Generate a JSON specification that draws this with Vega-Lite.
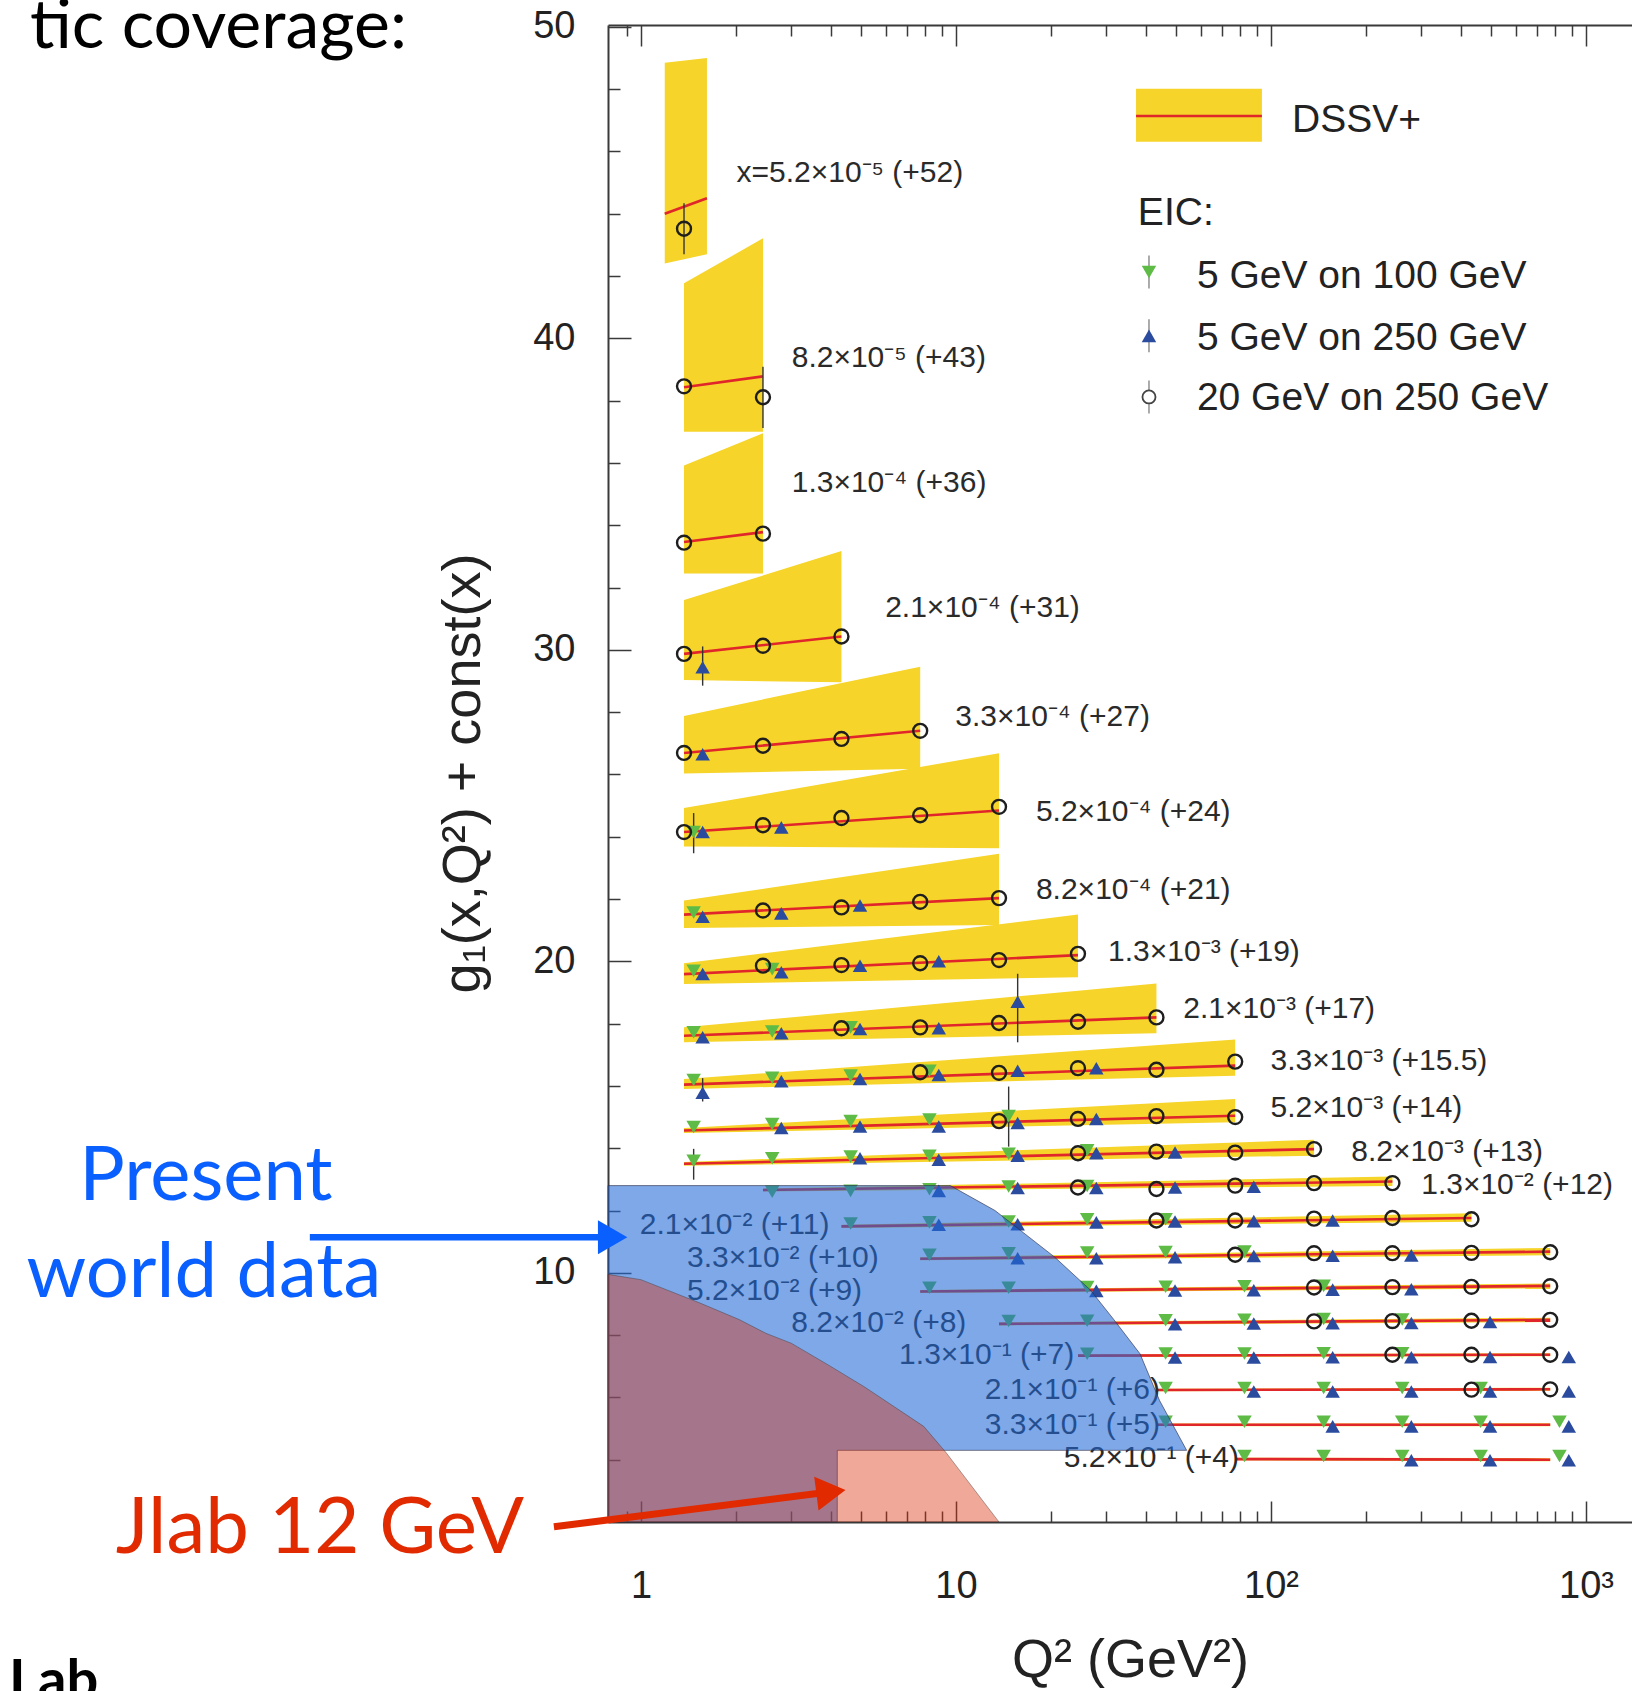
{
  "$schema": "https://vega.github.io/schema/vega-lite/v6.json",
  "width": 1024,
  "height": 1497,
  "autosize": {"type": "none"},
  "padding": {"left": 608, "top": 25, "right": 0, "bottom": 169},
  "background": "white",
  "config": {
    "view": {"stroke": null},
    "axis": {
      "labelFont": "Liberation Sans", "titleFont": "Liberation Sans", "grid": false,
      "domainColor": "#3a3a3a", "domainWidth": 2, "tickColor": "#3a3a3a", "tickWidth": 1.5,
      "labelColor": "#222222", "titleColor": "#222222", "titleFontWeight": "normal",
      "labelFontSize": 38, "titleFontSize": 54
    }
  },
  "resolve": {"axis": {"x": "independent", "y": "independent"}},
  "datasets": {
    "bands": [
      {"bin": "5.2e-5", "q2": 1.19, "lo": 42.4, "hi": 48.85}, {"bin": "5.2e-5", "q2": 1.62, "lo": 42.7, "hi": 49.0},
      {"bin": "8.2e-5", "q2": 1.37, "lo": 37.0, "hi": 41.77}, {"bin": "8.2e-5", "q2": 2.44, "lo": 37.0, "hi": 43.21},
      {"bin": "1.3e-4", "q2": 1.37, "lo": 32.45, "hi": 35.92}, {"bin": "1.3e-4", "q2": 2.44, "lo": 32.45, "hi": 36.95},
      {"bin": "2.1e-4", "q2": 1.37, "lo": 29.03, "hi": 31.6}, {"bin": "2.1e-4", "q2": 4.33, "lo": 28.96, "hi": 33.17},
      {"bin": "3.3e-4", "q2": 1.37, "lo": 26.03, "hi": 27.88}, {"bin": "3.3e-4", "q2": 7.7, "lo": 26.18, "hi": 29.46},
      {"bin": "5.2e-4", "q2": 1.37, "lo": 23.69, "hi": 24.92}, {"bin": "5.2e-4", "q2": 13.7, "lo": 23.63, "hi": 26.68},
      {"bin": "8.2e-4", "q2": 1.37, "lo": 21.07, "hi": 21.95}, {"bin": "8.2e-4", "q2": 13.7, "lo": 21.17, "hi": 23.45},
      {"bin": "1.3e-3", "q2": 1.37, "lo": 19.27, "hi": 19.94}, {"bin": "1.3e-3", "q2": 24.4, "lo": 19.49, "hi": 21.5},
      {"bin": "2.1e-3", "q2": 1.37, "lo": 17.4, "hi": 17.88}, {"bin": "2.1e-3", "q2": 43.3, "lo": 17.69, "hi": 19.29},
      {"bin": "3.3e-3", "q2": 1.37, "lo": 15.9, "hi": 16.22}, {"bin": "3.3e-3", "q2": 77, "lo": 16.33, "hi": 17.49},
      {"bin": "5.2e-3", "q2": 1.37, "lo": 14.49, "hi": 14.65}, {"bin": "5.2e-3", "q2": 77, "lo": 14.83, "hi": 15.58},
      {"bin": "8.2e-3", "q2": 1.37, "lo": 13.44, "hi": 13.56}, {"bin": "8.2e-3", "q2": 137, "lo": 13.76, "hi": 14.27},
      {"bin": "1.3e-2", "q2": 2.44, "lo": 12.61, "hi": 12.71}, {"bin": "1.3e-2", "q2": 243, "lo": 12.79, "hi": 13.09},
      {"bin": "2.1e-2", "q2": 4.33, "lo": 11.44, "hi": 11.54}, {"bin": "2.1e-2", "q2": 433, "lo": 11.64, "hi": 11.91},
      {"bin": "3.3e-2", "q2": 7.7, "lo": 10.4, "hi": 10.5}, {"bin": "3.3e-2", "q2": 770, "lo": 10.56, "hi": 10.8},
      {"bin": "5.2e-2", "q2": 7.7, "lo": 9.35, "hi": 9.45}, {"bin": "5.2e-2", "q2": 770, "lo": 9.5, "hi": 9.66},
      {"bin": "8.2e-2", "q2": 13.7, "lo": 8.31, "hi": 8.41}, {"bin": "8.2e-2", "q2": 770, "lo": 8.42, "hi": 8.56},
      {"bin": "1.3e-1", "q2": 24.4, "lo": 7.3, "hi": 7.38}, {"bin": "1.3e-1", "q2": 770, "lo": 7.32, "hi": 7.42},
      {"bin": "2.1e-1", "q2": 43.3, "lo": 6.2, "hi": 6.28}, {"bin": "2.1e-1", "q2": 770, "lo": 6.21, "hi": 6.31},
      {"bin": "3.3e-1", "q2": 43.3, "lo": 5.08, "hi": 5.16}, {"bin": "3.3e-1", "q2": 770, "lo": 5.07, "hi": 5.17},
      {"bin": "5.2e-1", "q2": 77, "lo": 3.98, "hi": 4.06}, {"bin": "5.2e-1", "q2": 770, "lo": 3.95, "hi": 4.05}
    ],
    "curves": [
      {"bin": "5.2e-5", "q2": 1.19, "g1": 44.0}, {"bin": "5.2e-5", "q2": 1.62, "g1": 44.5},
      {"bin": "8.2e-5", "q2": 1.37, "g1": 38.43}, {"bin": "8.2e-5", "q2": 2.44, "g1": 38.78},
      {"bin": "1.3e-4", "q2": 1.37, "g1": 33.46}, {"bin": "1.3e-4", "q2": 2.44, "g1": 33.78},
      {"bin": "2.1e-4", "q2": 1.37, "g1": 29.87}, {"bin": "2.1e-4", "q2": 4.33, "g1": 30.43},
      {"bin": "3.3e-4", "q2": 1.37, "g1": 26.69}, {"bin": "3.3e-4", "q2": 7.7, "g1": 27.4},
      {"bin": "5.2e-4", "q2": 1.37, "g1": 24.15}, {"bin": "5.2e-4", "q2": 13.7, "g1": 24.84},
      {"bin": "8.2e-4", "q2": 1.37, "g1": 21.5}, {"bin": "8.2e-4", "q2": 13.7, "g1": 22.03},
      {"bin": "1.3e-3", "q2": 1.37, "g1": 19.59}, {"bin": "1.3e-3", "q2": 24.4, "g1": 20.2},
      {"bin": "2.1e-3", "q2": 1.37, "g1": 17.61}, {"bin": "2.1e-3", "q2": 43.3, "g1": 18.2},
      {"bin": "3.3e-3", "q2": 1.37, "g1": 16.04}, {"bin": "3.3e-3", "q2": 77, "g1": 16.65},
      {"bin": "5.2e-3", "q2": 1.37, "g1": 14.57}, {"bin": "5.2e-3", "q2": 77, "g1": 15.04},
      {"bin": "8.2e-3", "q2": 1.37, "g1": 13.5}, {"bin": "8.2e-3", "q2": 137, "g1": 13.97},
      {"bin": "1.3e-2", "q2": 2.44, "g1": 12.66}, {"bin": "1.3e-2", "q2": 243, "g1": 12.93},
      {"bin": "2.1e-2", "q2": 4.33, "g1": 11.49}, {"bin": "2.1e-2", "q2": 433, "g1": 11.76},
      {"bin": "3.3e-2", "q2": 7.7, "g1": 10.45}, {"bin": "3.3e-2", "q2": 770, "g1": 10.68},
      {"bin": "5.2e-2", "q2": 7.7, "g1": 9.4}, {"bin": "5.2e-2", "q2": 770, "g1": 9.58},
      {"bin": "8.2e-2", "q2": 13.7, "g1": 8.36}, {"bin": "8.2e-2", "q2": 770, "g1": 8.49},
      {"bin": "1.3e-1", "q2": 24.4, "g1": 7.34}, {"bin": "1.3e-1", "q2": 770, "g1": 7.37},
      {"bin": "2.1e-1", "q2": 43.3, "g1": 6.24}, {"bin": "2.1e-1", "q2": 770, "g1": 6.26},
      {"bin": "3.3e-1", "q2": 43.3, "g1": 5.12}, {"bin": "3.3e-1", "q2": 770, "g1": 5.12},
      {"bin": "5.2e-1", "q2": 77, "g1": 4.02}, {"bin": "5.2e-1", "q2": 770, "g1": 4.0}
    ],
    "points": [
      {"bin": "5.2e-5", "beam": "20x250", "q2": 1.37, "g1": 43.52, "lo": 42.7, "hi": 44.34},
      {"bin": "8.2e-5", "beam": "20x250", "q2": 1.37, "g1": 38.46},
      {"bin": "8.2e-5", "beam": "20x250", "q2": 2.44, "g1": 38.11, "lo": 37.12, "hi": 39.09},
      {"bin": "1.3e-4", "beam": "20x250", "q2": 1.37, "g1": 33.44},
      {"bin": "1.3e-4", "beam": "20x250", "q2": 2.44, "g1": 33.73},
      {"bin": "2.1e-4", "beam": "20x250", "q2": 1.37, "g1": 29.87},
      {"bin": "2.1e-4", "beam": "20x250", "q2": 2.44, "g1": 30.13},
      {"bin": "2.1e-4", "beam": "20x250", "q2": 4.33, "g1": 30.43},
      {"bin": "2.1e-4", "beam": "5x250", "q2": 1.57, "g1": 29.44, "lo": 28.85, "hi": 30.11},
      {"bin": "3.3e-4", "beam": "20x250", "q2": 1.37, "g1": 26.69},
      {"bin": "3.3e-4", "beam": "20x250", "q2": 2.44, "g1": 26.92},
      {"bin": "3.3e-4", "beam": "20x250", "q2": 4.33, "g1": 27.14},
      {"bin": "3.3e-4", "beam": "20x250", "q2": 7.7, "g1": 27.4},
      {"bin": "3.3e-4", "beam": "5x250", "q2": 1.57, "g1": 26.65},
      {"bin": "5.2e-4", "beam": "20x250", "q2": 1.37, "g1": 24.15},
      {"bin": "5.2e-4", "beam": "20x250", "q2": 2.44, "g1": 24.37},
      {"bin": "5.2e-4", "beam": "20x250", "q2": 4.33, "g1": 24.6},
      {"bin": "5.2e-4", "beam": "20x250", "q2": 7.7, "g1": 24.69},
      {"bin": "5.2e-4", "beam": "20x250", "q2": 13.7, "g1": 24.96},
      {"bin": "5.2e-4", "beam": "5x100", "q2": 1.47, "g1": 24.15, "lo": 23.47, "hi": 24.76},
      {"bin": "5.2e-4", "beam": "5x250", "q2": 1.57, "g1": 24.15},
      {"bin": "5.2e-4", "beam": "5x250", "q2": 2.79, "g1": 24.3},
      {"bin": "8.2e-4", "beam": "5x100", "q2": 1.47, "g1": 21.57},
      {"bin": "8.2e-4", "beam": "5x250", "q2": 1.57, "g1": 21.43},
      {"bin": "8.2e-4", "beam": "20x250", "q2": 2.44, "g1": 21.63},
      {"bin": "8.2e-4", "beam": "5x250", "q2": 2.79, "g1": 21.54},
      {"bin": "8.2e-4", "beam": "20x250", "q2": 4.33, "g1": 21.73},
      {"bin": "8.2e-4", "beam": "5x250", "q2": 4.96, "g1": 21.79},
      {"bin": "8.2e-4", "beam": "20x250", "q2": 7.7, "g1": 21.91},
      {"bin": "8.2e-4", "beam": "20x250", "q2": 13.7, "g1": 22.03},
      {"bin": "1.3e-3", "beam": "5x100", "q2": 1.47, "g1": 19.7},
      {"bin": "1.3e-3", "beam": "5x250", "q2": 1.57, "g1": 19.59},
      {"bin": "1.3e-3", "beam": "20x250", "q2": 2.44, "g1": 19.86},
      {"bin": "1.3e-3", "beam": "5x100", "q2": 2.61, "g1": 19.75},
      {"bin": "1.3e-3", "beam": "5x250", "q2": 2.79, "g1": 19.65},
      {"bin": "1.3e-3", "beam": "20x250", "q2": 4.33, "g1": 19.88},
      {"bin": "1.3e-3", "beam": "5x250", "q2": 4.96, "g1": 19.86},
      {"bin": "1.3e-3", "beam": "20x250", "q2": 7.7, "g1": 19.94},
      {"bin": "1.3e-3", "beam": "5x250", "q2": 8.82, "g1": 20.0},
      {"bin": "1.3e-3", "beam": "20x250", "q2": 13.7, "g1": 20.04},
      {"bin": "1.3e-3", "beam": "20x250", "q2": 24.4, "g1": 20.24},
      {"bin": "2.1e-3", "beam": "5x100", "q2": 1.47, "g1": 17.72},
      {"bin": "2.1e-3", "beam": "5x250", "q2": 1.57, "g1": 17.56},
      {"bin": "2.1e-3", "beam": "5x100", "q2": 2.61, "g1": 17.75},
      {"bin": "2.1e-3", "beam": "5x250", "q2": 2.79, "g1": 17.69},
      {"bin": "2.1e-3", "beam": "20x250", "q2": 4.33, "g1": 17.85},
      {"bin": "2.1e-3", "beam": "5x100", "q2": 4.63, "g1": 17.88},
      {"bin": "2.1e-3", "beam": "5x250", "q2": 4.96, "g1": 17.83},
      {"bin": "2.1e-3", "beam": "20x250", "q2": 7.7, "g1": 17.88},
      {"bin": "2.1e-3", "beam": "5x250", "q2": 8.82, "g1": 17.85},
      {"bin": "2.1e-3", "beam": "20x250", "q2": 13.7, "g1": 18.02},
      {"bin": "2.1e-3", "beam": "5x250", "q2": 15.7, "g1": 18.7, "lo": 17.4, "hi": 19.6},
      {"bin": "2.1e-3", "beam": "20x250", "q2": 24.4, "g1": 18.06},
      {"bin": "2.1e-3", "beam": "20x250", "q2": 43.3, "g1": 18.2},
      {"bin": "3.3e-3", "beam": "5x100", "q2": 1.47, "g1": 16.19},
      {"bin": "3.3e-3", "beam": "5x250", "q2": 1.57, "g1": 15.78, "lo": 15.5, "hi": 16.25},
      {"bin": "3.3e-3", "beam": "5x100", "q2": 2.61, "g1": 16.26},
      {"bin": "3.3e-3", "beam": "5x250", "q2": 2.79, "g1": 16.15},
      {"bin": "3.3e-3", "beam": "5x100", "q2": 4.63, "g1": 16.33},
      {"bin": "3.3e-3", "beam": "5x250", "q2": 4.96, "g1": 16.22},
      {"bin": "3.3e-3", "beam": "20x250", "q2": 7.7, "g1": 16.44},
      {"bin": "3.3e-3", "beam": "5x100", "q2": 8.24, "g1": 16.49},
      {"bin": "3.3e-3", "beam": "5x250", "q2": 8.82, "g1": 16.35},
      {"bin": "3.3e-3", "beam": "20x250", "q2": 13.7, "g1": 16.42},
      {"bin": "3.3e-3", "beam": "5x250", "q2": 15.7, "g1": 16.49},
      {"bin": "3.3e-3", "beam": "20x250", "q2": 24.4, "g1": 16.57},
      {"bin": "3.3e-3", "beam": "5x250", "q2": 27.9, "g1": 16.57},
      {"bin": "3.3e-3", "beam": "20x250", "q2": 43.3, "g1": 16.52},
      {"bin": "3.3e-3", "beam": "20x250", "q2": 77, "g1": 16.78},
      {"bin": "5.2e-3", "beam": "5x100", "q2": 1.47, "g1": 14.68},
      {"bin": "5.2e-3", "beam": "5x100", "q2": 2.61, "g1": 14.78},
      {"bin": "5.2e-3", "beam": "5x250", "q2": 2.79, "g1": 14.65},
      {"bin": "5.2e-3", "beam": "5x100", "q2": 4.63, "g1": 14.87},
      {"bin": "5.2e-3", "beam": "5x250", "q2": 4.96, "g1": 14.7},
      {"bin": "5.2e-3", "beam": "5x100", "q2": 8.24, "g1": 14.92},
      {"bin": "5.2e-3", "beam": "5x250", "q2": 8.82, "g1": 14.7},
      {"bin": "5.2e-3", "beam": "20x250", "q2": 13.7, "g1": 14.87},
      {"bin": "5.2e-3", "beam": "5x100", "q2": 14.7, "g1": 15.03, "lo": 14.05, "hi": 15.98},
      {"bin": "5.2e-3", "beam": "5x250", "q2": 15.7, "g1": 14.81},
      {"bin": "5.2e-3", "beam": "20x250", "q2": 24.4, "g1": 14.94},
      {"bin": "5.2e-3", "beam": "5x250", "q2": 27.9, "g1": 14.94},
      {"bin": "5.2e-3", "beam": "20x250", "q2": 43.3, "g1": 15.03},
      {"bin": "5.2e-3", "beam": "20x250", "q2": 77, "g1": 15.0},
      {"bin": "8.2e-3", "beam": "5x100", "q2": 1.47, "g1": 13.6, "lo": 12.99, "hi": 13.98},
      {"bin": "8.2e-3", "beam": "5x100", "q2": 2.61, "g1": 13.68},
      {"bin": "8.2e-3", "beam": "5x100", "q2": 4.63, "g1": 13.73},
      {"bin": "8.2e-3", "beam": "5x250", "q2": 4.96, "g1": 13.68},
      {"bin": "8.2e-3", "beam": "5x100", "q2": 8.24, "g1": 13.76},
      {"bin": "8.2e-3", "beam": "5x250", "q2": 8.82, "g1": 13.63},
      {"bin": "8.2e-3", "beam": "5x100", "q2": 14.7, "g1": 13.82},
      {"bin": "8.2e-3", "beam": "5x250", "q2": 15.7, "g1": 13.76},
      {"bin": "8.2e-3", "beam": "20x250", "q2": 24.4, "g1": 13.84},
      {"bin": "8.2e-3", "beam": "5x100", "q2": 26.1, "g1": 13.93},
      {"bin": "8.2e-3", "beam": "5x250", "q2": 27.9, "g1": 13.84},
      {"bin": "8.2e-3", "beam": "20x250", "q2": 43.3, "g1": 13.89},
      {"bin": "8.2e-3", "beam": "5x250", "q2": 49.6, "g1": 13.86},
      {"bin": "8.2e-3", "beam": "20x250", "q2": 77, "g1": 13.86},
      {"bin": "8.2e-3", "beam": "20x250", "q2": 137, "g1": 13.97},
      {"bin": "1.3e-2", "beam": "5x100", "q2": 2.61, "g1": 12.6},
      {"bin": "1.3e-2", "beam": "5x100", "q2": 4.63, "g1": 12.63},
      {"bin": "1.3e-2", "beam": "5x100", "q2": 8.24, "g1": 12.68},
      {"bin": "1.3e-2", "beam": "5x250", "q2": 8.82, "g1": 12.63},
      {"bin": "1.3e-2", "beam": "5x100", "q2": 14.7, "g1": 12.77},
      {"bin": "1.3e-2", "beam": "5x250", "q2": 15.7, "g1": 12.72},
      {"bin": "1.3e-2", "beam": "20x250", "q2": 24.4, "g1": 12.74},
      {"bin": "1.3e-2", "beam": "5x100", "q2": 26.1, "g1": 12.79},
      {"bin": "1.3e-2", "beam": "5x250", "q2": 27.9, "g1": 12.72},
      {"bin": "1.3e-2", "beam": "20x250", "q2": 43.3, "g1": 12.69},
      {"bin": "1.3e-2", "beam": "5x250", "q2": 49.6, "g1": 12.74},
      {"bin": "1.3e-2", "beam": "20x250", "q2": 77, "g1": 12.8},
      {"bin": "1.3e-2", "beam": "5x250", "q2": 88.2, "g1": 12.76},
      {"bin": "1.3e-2", "beam": "20x250", "q2": 137, "g1": 12.88},
      {"bin": "1.3e-2", "beam": "20x250", "q2": 243, "g1": 12.88},
      {"bin": "2.1e-2", "beam": "5x100", "q2": 4.63, "g1": 11.58},
      {"bin": "2.1e-2", "beam": "5x100", "q2": 8.24, "g1": 11.62},
      {"bin": "2.1e-2", "beam": "5x250", "q2": 8.82, "g1": 11.54},
      {"bin": "2.1e-2", "beam": "5x100", "q2": 14.7, "g1": 11.65},
      {"bin": "2.1e-2", "beam": "5x250", "q2": 15.7, "g1": 11.56},
      {"bin": "2.1e-2", "beam": "5x100", "q2": 26.1, "g1": 11.72},
      {"bin": "2.1e-2", "beam": "5x250", "q2": 27.9, "g1": 11.62},
      {"bin": "2.1e-2", "beam": "20x250", "q2": 43.3, "g1": 11.68},
      {"bin": "2.1e-2", "beam": "5x100", "q2": 46.3, "g1": 11.72},
      {"bin": "2.1e-2", "beam": "5x250", "q2": 49.6, "g1": 11.65},
      {"bin": "2.1e-2", "beam": "20x250", "q2": 77, "g1": 11.68},
      {"bin": "2.1e-2", "beam": "5x250", "q2": 88.2, "g1": 11.66},
      {"bin": "2.1e-2", "beam": "20x250", "q2": 137, "g1": 11.74},
      {"bin": "2.1e-2", "beam": "5x250", "q2": 157, "g1": 11.68},
      {"bin": "2.1e-2", "beam": "20x250", "q2": 243, "g1": 11.76},
      {"bin": "2.1e-2", "beam": "20x250", "q2": 433, "g1": 11.72},
      {"bin": "3.3e-2", "beam": "5x100", "q2": 8.24, "g1": 10.58},
      {"bin": "3.3e-2", "beam": "5x100", "q2": 14.7, "g1": 10.63},
      {"bin": "3.3e-2", "beam": "5x250", "q2": 15.7, "g1": 10.47},
      {"bin": "3.3e-2", "beam": "5x100", "q2": 26.1, "g1": 10.65},
      {"bin": "3.3e-2", "beam": "5x250", "q2": 27.9, "g1": 10.47},
      {"bin": "3.3e-2", "beam": "5x100", "q2": 46.3, "g1": 10.67},
      {"bin": "3.3e-2", "beam": "5x250", "q2": 49.6, "g1": 10.5},
      {"bin": "3.3e-2", "beam": "20x250", "q2": 77, "g1": 10.58},
      {"bin": "3.3e-2", "beam": "5x100", "q2": 82.4, "g1": 10.68},
      {"bin": "3.3e-2", "beam": "5x250", "q2": 88.2, "g1": 10.54},
      {"bin": "3.3e-2", "beam": "20x250", "q2": 137, "g1": 10.63},
      {"bin": "3.3e-2", "beam": "5x250", "q2": 157, "g1": 10.55},
      {"bin": "3.3e-2", "beam": "20x250", "q2": 243, "g1": 10.63},
      {"bin": "3.3e-2", "beam": "5x250", "q2": 279, "g1": 10.56},
      {"bin": "3.3e-2", "beam": "20x250", "q2": 433, "g1": 10.64},
      {"bin": "3.3e-2", "beam": "20x250", "q2": 770, "g1": 10.66},
      {"bin": "5.2e-2", "beam": "5x100", "q2": 8.24, "g1": 9.52},
      {"bin": "5.2e-2", "beam": "5x100", "q2": 14.7, "g1": 9.52},
      {"bin": "5.2e-2", "beam": "5x100", "q2": 26.1, "g1": 9.54},
      {"bin": "5.2e-2", "beam": "5x250", "q2": 27.9, "g1": 9.42},
      {"bin": "5.2e-2", "beam": "5x100", "q2": 46.3, "g1": 9.55},
      {"bin": "5.2e-2", "beam": "5x250", "q2": 49.6, "g1": 9.43},
      {"bin": "5.2e-2", "beam": "5x100", "q2": 82.4, "g1": 9.57},
      {"bin": "5.2e-2", "beam": "5x250", "q2": 88.2, "g1": 9.44},
      {"bin": "5.2e-2", "beam": "20x250", "q2": 137, "g1": 9.53},
      {"bin": "5.2e-2", "beam": "5x100", "q2": 147, "g1": 9.58},
      {"bin": "5.2e-2", "beam": "5x250", "q2": 157, "g1": 9.46},
      {"bin": "5.2e-2", "beam": "20x250", "q2": 243, "g1": 9.54},
      {"bin": "5.2e-2", "beam": "5x250", "q2": 279, "g1": 9.47},
      {"bin": "5.2e-2", "beam": "20x250", "q2": 433, "g1": 9.55},
      {"bin": "5.2e-2", "beam": "20x250", "q2": 770, "g1": 9.57},
      {"bin": "8.2e-2", "beam": "5x100", "q2": 14.7, "g1": 8.45},
      {"bin": "8.2e-2", "beam": "5x100", "q2": 26.1, "g1": 8.46},
      {"bin": "8.2e-2", "beam": "5x100", "q2": 46.3, "g1": 8.48},
      {"bin": "8.2e-2", "beam": "5x250", "q2": 49.6, "g1": 8.35},
      {"bin": "8.2e-2", "beam": "5x100", "q2": 82.4, "g1": 8.49},
      {"bin": "8.2e-2", "beam": "5x250", "q2": 88.2, "g1": 8.37},
      {"bin": "8.2e-2", "beam": "20x250", "q2": 137, "g1": 8.44},
      {"bin": "8.2e-2", "beam": "5x100", "q2": 147, "g1": 8.52},
      {"bin": "8.2e-2", "beam": "5x250", "q2": 157, "g1": 8.38},
      {"bin": "8.2e-2", "beam": "20x250", "q2": 243, "g1": 8.45},
      {"bin": "8.2e-2", "beam": "5x100", "q2": 261, "g1": 8.5},
      {"bin": "8.2e-2", "beam": "5x250", "q2": 279, "g1": 8.39},
      {"bin": "8.2e-2", "beam": "20x250", "q2": 433, "g1": 8.46},
      {"bin": "8.2e-2", "beam": "5x250", "q2": 496, "g1": 8.42},
      {"bin": "8.2e-2", "beam": "20x250", "q2": 770, "g1": 8.49},
      {"bin": "1.3e-1", "beam": "5x100", "q2": 26.1, "g1": 7.4},
      {"bin": "1.3e-1", "beam": "5x100", "q2": 46.3, "g1": 7.41},
      {"bin": "1.3e-1", "beam": "5x250", "q2": 49.6, "g1": 7.28},
      {"bin": "1.3e-1", "beam": "5x100", "q2": 82.4, "g1": 7.41},
      {"bin": "1.3e-1", "beam": "5x250", "q2": 88.2, "g1": 7.28},
      {"bin": "1.3e-1", "beam": "5x100", "q2": 147, "g1": 7.42},
      {"bin": "1.3e-1", "beam": "5x250", "q2": 157, "g1": 7.29},
      {"bin": "1.3e-1", "beam": "20x250", "q2": 243, "g1": 7.37},
      {"bin": "1.3e-1", "beam": "5x100", "q2": 261, "g1": 7.42},
      {"bin": "1.3e-1", "beam": "5x250", "q2": 279, "g1": 7.29},
      {"bin": "1.3e-1", "beam": "20x250", "q2": 433, "g1": 7.37},
      {"bin": "1.3e-1", "beam": "5x250", "q2": 496, "g1": 7.3},
      {"bin": "1.3e-1", "beam": "20x250", "q2": 770, "g1": 7.37},
      {"bin": "1.3e-1", "beam": "5x250", "q2": 882, "g1": 7.3},
      {"bin": "2.1e-1", "beam": "5x100", "q2": 46.3, "g1": 6.3},
      {"bin": "2.1e-1", "beam": "5x100", "q2": 82.4, "g1": 6.3},
      {"bin": "2.1e-1", "beam": "5x250", "q2": 88.2, "g1": 6.19},
      {"bin": "2.1e-1", "beam": "5x100", "q2": 147, "g1": 6.3},
      {"bin": "2.1e-1", "beam": "5x250", "q2": 157, "g1": 6.19},
      {"bin": "2.1e-1", "beam": "5x100", "q2": 261, "g1": 6.3},
      {"bin": "2.1e-1", "beam": "5x250", "q2": 279, "g1": 6.19},
      {"bin": "2.1e-1", "beam": "20x250", "q2": 433, "g1": 6.25},
      {"bin": "2.1e-1", "beam": "5x100", "q2": 463, "g1": 6.3},
      {"bin": "2.1e-1", "beam": "5x250", "q2": 496, "g1": 6.19},
      {"bin": "2.1e-1", "beam": "20x250", "q2": 770, "g1": 6.26},
      {"bin": "2.1e-1", "beam": "5x250", "q2": 882, "g1": 6.19},
      {"bin": "3.3e-1", "beam": "5x100", "q2": 46.3, "g1": 5.22},
      {"bin": "3.3e-1", "beam": "5x100", "q2": 82.4, "g1": 5.22},
      {"bin": "3.3e-1", "beam": "5x100", "q2": 147, "g1": 5.22},
      {"bin": "3.3e-1", "beam": "5x250", "q2": 157, "g1": 5.07},
      {"bin": "3.3e-1", "beam": "5x100", "q2": 261, "g1": 5.22},
      {"bin": "3.3e-1", "beam": "5x250", "q2": 279, "g1": 5.07},
      {"bin": "3.3e-1", "beam": "5x100", "q2": 463, "g1": 5.22},
      {"bin": "3.3e-1", "beam": "5x250", "q2": 496, "g1": 5.07},
      {"bin": "3.3e-1", "beam": "5x100", "q2": 824, "g1": 5.22},
      {"bin": "3.3e-1", "beam": "5x250", "q2": 882, "g1": 5.07},
      {"bin": "5.2e-1", "beam": "5x100", "q2": 82.4, "g1": 4.12},
      {"bin": "5.2e-1", "beam": "5x100", "q2": 147, "g1": 4.12},
      {"bin": "5.2e-1", "beam": "5x100", "q2": 261, "g1": 4.12},
      {"bin": "5.2e-1", "beam": "5x250", "q2": 279, "g1": 3.98},
      {"bin": "5.2e-1", "beam": "5x100", "q2": 463, "g1": 4.12},
      {"bin": "5.2e-1", "beam": "5x250", "q2": 496, "g1": 3.98},
      {"bin": "5.2e-1", "beam": "5x100", "q2": 824, "g1": 4.12},
      {"bin": "5.2e-1", "beam": "5x250", "q2": 882, "g1": 3.98}
    ],
    "binlabels": [
      {"text": "x=5.2×10⁻⁵ (+52)", "q2": 2.01, "g1": 45.32},
      {"text": "8.2×10⁻⁵ (+43)", "q2": 3.01, "g1": 39.37},
      {"text": "1.3×10⁻⁴ (+36)", "q2": 3.01, "g1": 35.35},
      {"text": "2.1×10⁻⁴ (+31)", "q2": 5.96, "g1": 31.33},
      {"text": "3.3×10⁻⁴ (+27)", "q2": 9.95, "g1": 27.84},
      {"text": "5.2×10⁻⁴ (+24)", "q2": 17.94, "g1": 24.79},
      {"text": "8.2×10⁻⁴ (+21)", "q2": 17.94, "g1": 22.29},
      {"text": "1.3×10⁻³ (+19)", "q2": 30.4, "g1": 20.29},
      {"text": "2.1×10⁻³ (+17)", "q2": 52.7, "g1": 18.48},
      {"text": "3.3×10⁻³ (+15.5)", "q2": 99.7, "g1": 16.79},
      {"text": "5.2×10⁻³ (+14)", "q2": 99.7, "g1": 15.3},
      {"text": "8.2×10⁻³ (+13)", "q2": 179.8, "g1": 13.88},
      {"text": "1.3×10⁻² (+12)", "q2": 299.9, "g1": 12.81},
      {"text": "2.1×10⁻² (+11)", "q2": 0.992, "g1": 11.53},
      {"text": "3.3×10⁻² (+10)", "q2": 1.4, "g1": 10.46},
      {"text": "5.2×10⁻² (+9)", "q2": 1.4, "g1": 9.42},
      {"text": "8.2×10⁻² (+8)", "q2": 3.0, "g1": 8.4},
      {"text": "1.3×10⁻¹ (+7)", "q2": 6.6, "g1": 7.35},
      {"text": "2.1×10⁻¹ (+6)", "q2": 12.35, "g1": 6.24},
      {"text": "3.3×10⁻¹ (+5)", "q2": 12.35, "g1": 5.13},
      {"text": "5.2×10⁻¹ (+4)", "q2": 22.0, "g1": 4.04}
    ],
    "world": [
      {"q2": 0.786, "top": 12.8, "bottom": 2},
      {"q2": 4.2, "top": 12.8, "bottom": 2},
      {"q2": 4.201, "top": 12.8, "bottom": 4.3},
      {"q2": 9.6, "top": 12.8, "bottom": 4.3},
      {"q2": 13.3, "top": 12.0, "bottom": 4.3},
      {"q2": 20.6, "top": 10.5, "bottom": 4.3},
      {"q2": 26.7, "top": 9.45, "bottom": 4.3},
      {"q2": 31.7, "top": 8.5, "bottom": 4.3},
      {"q2": 38.4, "top": 7.4, "bottom": 4.3},
      {"q2": 44.3, "top": 5.9, "bottom": 4.3},
      {"q2": 54, "top": 4.3, "bottom": 4.3}
    ],
    "jlab": [
      {"q2": 0.786, "top": 9.95, "bottom": 2},
      {"q2": 1.0, "top": 9.78, "bottom": 2},
      {"q2": 1.54, "top": 9.03, "bottom": 2},
      {"q2": 2.05, "top": 8.5, "bottom": 2},
      {"q2": 2.49, "top": 8.06, "bottom": 2},
      {"q2": 3.0, "top": 7.74, "bottom": 2},
      {"q2": 3.92, "top": 7.05, "bottom": 2},
      {"q2": 5.1, "top": 6.35, "bottom": 2},
      {"q2": 7.9, "top": 5.07, "bottom": 2},
      {"q2": 9.3, "top": 4.23, "bottom": 2},
      {"q2": 13.7, "top": 2.0, "bottom": 2}
    ],
    "swatch": [{"q2": 37.3, "q2end": 93.6, "lo": 46.31, "hi": 48.01, "mid": 47.14}],
    "keysym": [
      {"beam": "5x100", "q2": 41.0, "g1": 42.13, "lo": 41.6, "hi": 42.66},
      {"beam": "5x250", "q2": 41.0, "g1": 40.08, "lo": 39.55, "hi": 40.61},
      {"beam": "20x250", "q2": 41.0, "g1": 38.12, "lo": 37.59, "hi": 38.65}
    ],
    "keytext": [
      {"text": "DSSV+", "q2": 116.6, "g1": 46.63},
      {"text": "EIC:", "q2": 37.8, "g1": 43.64},
      {"text": "5 GeV on 100 GeV", "q2": 58.2, "g1": 41.62},
      {"text": "5 GeV on 250 GeV", "q2": 58.2, "g1": 39.63},
      {"text": "20 GeV on 250 GeV", "q2": 58.2, "g1": 37.7}
    ],
    "notes": [
      {"note": "Present", "q2": 0.0416, "g1": 12.34, "group": "world"},
      {"note": "world data", "q2": 0.041, "g1": 9.23, "group": "world"},
      {"note": "Jlab 12 GeV", "q2": 0.0957, "g1": 1.01, "group": "jlab"},
      {"note": "tic coverage:", "q2": 0.1808, "g1": 49.32, "group": "heading"},
      {"note": "Lab", "q2": 0.00986, "g1": -3.68, "group": "footer"}
    ],
    "arrows": [
      {"group": "world", "q2": 0.0889, "q2end": 0.8, "g1": 11.14, "g1end": 11.14},
      {"group": "jlab", "q2": 0.5294, "q2end": 4.01, "g1": 1.846, "g1end": 2.97}
    ],
    "heads": [
      {"group": "world", "q2": 0.813, "g1": 11.14},
      {"group": "jlab", "q2": 4.01, "g1": 2.97}
    ]
  },
  "layer": [
    {
      "data": {"name": "bands"},
      "mark": {"type": "area", "color": "#F6D42A", "opacity": 1},
      "encoding": {
        "x": {
          "field": "q2", "type": "quantitative",
          "scale": {"type": "log", "domain": [0.786, 1400], "nice": false},
          "axis": {
            "orient": "bottom",
            "values": [0.9, 1, 2, 3, 4, 5, 6, 7, 8, 9, 10, 20, 30, 40, 50, 60, 70, 80, 90, 100, 200, 300, 400, 500, 600, 700, 800, 900, 1000],
            "labelExpr": "datum.value == 1 ? '1' : datum.value == 10 ? '10' : datum.value == 100 ? '10²' : datum.value == 1000 ? '10³' : ''",
            "tickSize": {"condition": {"test": "datum.value == 1 || datum.value == 10 || datum.value == 100 || datum.value == 1000", "value": -21}, "value": -11},
            "labelPadding": 66, "labelOverlap": false, "labelFlush": false,
            "title": "Q² (GeV²)", "titleX": 522, "titleY": 154, "titleBaseline": "alphabetic", "titleAlign": "center"
          }
        },
        "y": {
          "field": "lo", "type": "quantitative",
          "scale": {"domain": [2, 50.06], "nice": false, "zero": false},
          "axis": {
            "orient": "left",
            "values": [4, 6, 8, 10, 12, 14, 16, 18, 20, 22, 24, 26, 28, 30, 32, 34, 36, 38, 40, 42, 44, 46, 48, 50],
            "labelExpr": "datum.value % 10 == 0 ? datum.label : ''",
            "tickSize": {"condition": {"test": "datum.value % 10 == 0", "value": -23}, "value": -12},
            "labelPadding": 56, "labelOverlap": false, "labelFlush": false,
            "title": "g₁(x,Q²) + const(x)", "titleX": -129, "titleY": 748, "titleBaseline": "alphabetic", "titleAlign": "center", "titleAngle": -90
          }
        },
        "y2": {"field": "hi"},
        "detail": {"field": "bin"}
      }
    },
    {
      "data": {"name": "curves"},
      "mark": {"type": "line", "color": "#E0262A", "strokeWidth": 2.6},
      "encoding": {
        "x": {
          "field": "q2", "type": "quantitative",
          "axis": {
            "orient": "top",
            "values": [0.9, 1, 2, 3, 4, 5, 6, 7, 8, 9, 10, 20, 30, 40, 50, 60, 70, 80, 90, 100, 200, 300, 400, 500, 600, 700, 800, 900, 1000],
            "labels": false, "title": null,
            "tickSize": {"condition": {"test": "datum.value == 1 || datum.value == 10 || datum.value == 100 || datum.value == 1000", "value": -21}, "value": -11}
          }
        },
        "y": {"field": "g1", "type": "quantitative", "axis": null},
        "detail": {"field": "bin"}
      }
    },
    {
      "data": {"name": "points"},
      "transform": [{"filter": "isValid(datum.lo)"}],
      "mark": {"type": "rule", "color": "#333333", "strokeWidth": 1.4},
      "encoding": {
        "x": {"field": "q2", "type": "quantitative", "axis": null},
        "y": {"field": "lo", "type": "quantitative", "axis": null},
        "y2": {"field": "hi"}
      }
    },
    {
      "data": {"name": "points"},
      "transform": [{"filter": "datum.beam != '20x250'"}],
      "mark": {"type": "point", "filled": true, "size": 210, "opacity": 1},
      "encoding": {
        "x": {"field": "q2", "type": "quantitative", "axis": null},
        "y": {"field": "g1", "type": "quantitative", "axis": null},
        "shape": {"field": "beam", "type": "nominal", "scale": {"domain": ["5x100", "5x250"], "range": ["triangle-down", "triangle-up"]}, "legend": null},
        "color": {"field": "beam", "type": "nominal", "scale": {"domain": ["5x100", "5x250"], "range": ["#5DBB46", "#2A4B9E"]}, "legend": null}
      }
    },
    {
      "data": {"name": "points"},
      "transform": [{"filter": "datum.beam == '20x250'"}],
      "mark": {"type": "point", "filled": false, "shape": "circle", "size": 195, "stroke": "#1e1e1e", "strokeWidth": 2.4, "opacity": 1},
      "encoding": {
        "x": {"field": "q2", "type": "quantitative", "axis": null},
        "y": {"field": "g1", "type": "quantitative", "axis": null}
      }
    },
    {
      "data": {"name": "binlabels"},
      "mark": {"type": "text", "align": "left", "baseline": "middle", "font": "Liberation Sans", "fontSize": 30, "color": "#2a2a2a"},
      "encoding": {
        "x": {"field": "q2", "type": "quantitative", "axis": null},
        "y": {"field": "g1", "type": "quantitative", "axis": null},
        "text": {"field": "text"}
      }
    },
    {
      "data": {"name": "world"},
      "mark": {"type": "area", "fill": "#2169D7", "fillOpacity": 0.58, "stroke": "#2a2a40", "strokeWidth": 1, "strokeOpacity": 0.6},
      "encoding": {
        "x": {"field": "q2", "type": "quantitative", "axis": null},
        "y": {"field": "bottom", "type": "quantitative", "axis": null},
        "y2": {"field": "top"}
      }
    },
    {
      "data": {"name": "jlab"},
      "mark": {"type": "area", "fill": "#DB300A", "fillOpacity": 0.42, "stroke": "#333333", "strokeWidth": 0.8, "strokeOpacity": 0.5},
      "encoding": {
        "x": {"field": "q2", "type": "quantitative", "axis": null},
        "y": {"field": "bottom", "type": "quantitative", "axis": null},
        "y2": {"field": "top"}
      }
    },
    {
      "data": {"name": "swatch"},
      "mark": {"type": "rect", "fill": "#F6D42A"},
      "encoding": {
        "x": {"field": "q2", "type": "quantitative", "axis": null},
        "x2": {"field": "q2end"},
        "y": {"field": "lo", "type": "quantitative", "axis": null},
        "y2": {"field": "hi"}
      }
    },
    {
      "data": {"name": "swatch"},
      "mark": {"type": "rule", "color": "#E0262A", "strokeWidth": 2.6},
      "encoding": {
        "x": {"field": "q2", "type": "quantitative", "axis": null},
        "x2": {"field": "q2end"},
        "y": {"field": "mid", "type": "quantitative", "axis": null}
      }
    },
    {
      "data": {"name": "keysym"},
      "mark": {"type": "rule", "color": "#888888", "strokeWidth": 1.4},
      "encoding": {
        "x": {"field": "q2", "type": "quantitative", "axis": null},
        "y": {"field": "lo", "type": "quantitative", "axis": null},
        "y2": {"field": "hi"}
      }
    },
    {
      "data": {"name": "keysym"},
      "transform": [{"filter": "datum.beam != '20x250'"}],
      "mark": {"type": "point", "filled": true, "size": 210, "opacity": 1},
      "encoding": {
        "x": {"field": "q2", "type": "quantitative", "axis": null},
        "y": {"field": "g1", "type": "quantitative", "axis": null},
        "shape": {"field": "beam", "type": "nominal", "scale": {"domain": ["5x100", "5x250"], "range": ["triangle-down", "triangle-up"]}, "legend": null},
        "color": {"field": "beam", "type": "nominal", "scale": {"domain": ["5x100", "5x250"], "range": ["#5DBB46", "#2A4B9E"]}, "legend": null}
      }
    },
    {
      "data": {"name": "keysym"},
      "transform": [{"filter": "datum.beam == '20x250'"}],
      "mark": {"type": "point", "filled": true, "fill": "white", "shape": "circle", "size": 170, "stroke": "#444444", "strokeWidth": 1.8, "opacity": 1},
      "encoding": {
        "x": {"field": "q2", "type": "quantitative", "axis": null},
        "y": {"field": "g1", "type": "quantitative", "axis": null}
      }
    },
    {
      "data": {"name": "keytext"},
      "mark": {"type": "text", "align": "left", "baseline": "alphabetic", "font": "Liberation Sans", "fontSize": 39, "color": "#222222"},
      "encoding": {
        "x": {"field": "q2", "type": "quantitative", "axis": null},
        "y": {"field": "g1", "type": "quantitative", "axis": null},
        "text": {"field": "text"}
      }
    },
    {
      "data": {"name": "arrows"},
      "transform": [{"filter": "datum.group == 'world'"}],
      "mark": {"type": "rule", "color": "#0A5FFF", "strokeWidth": 6.5},
      "encoding": {
        "x": {"field": "q2", "type": "quantitative", "axis": null},
        "x2": {"field": "q2end"},
        "y": {"field": "g1", "type": "quantitative", "axis": null},
        "y2": {"field": "g1end"}
      }
    },
    {
      "data": {"name": "heads"},
      "transform": [{"filter": "datum.group == 'world'"}],
      "mark": {"type": "point", "shape": "triangle-right", "filled": true, "color": "#0A5FFF", "size": 1150, "opacity": 1},
      "encoding": {
        "x": {"field": "q2", "type": "quantitative", "axis": null},
        "y": {"field": "g1", "type": "quantitative", "axis": null}
      }
    },
    {
      "data": {"name": "arrows"},
      "transform": [{"filter": "datum.group == 'jlab'"}],
      "mark": {"type": "rule", "color": "#E12A00", "strokeWidth": 7},
      "encoding": {
        "x": {"field": "q2", "type": "quantitative", "axis": null},
        "x2": {"field": "q2end"},
        "y": {"field": "g1", "type": "quantitative", "axis": null},
        "y2": {"field": "g1end"}
      }
    },
    {
      "data": {"name": "heads"},
      "transform": [{"filter": "datum.group == 'jlab'"}],
      "mark": {"type": "point", "shape": "triangle-right", "filled": true, "color": "#E12A00", "size": 1150, "angle": -7.2, "opacity": 1},
      "encoding": {
        "x": {"field": "q2", "type": "quantitative", "axis": null},
        "y": {"field": "g1", "type": "quantitative", "axis": null}
      }
    },
    {
      "data": {"name": "notes"},
      "transform": [{"filter": "datum.group == 'world'"}],
      "mark": {"type": "text", "align": "center", "baseline": "alphabetic", "font": "Lato", "fontSize": 76, "color": "#0A5FFF"},
      "encoding": {
        "x": {"field": "q2", "type": "quantitative", "axis": null},
        "y": {"field": "g1", "type": "quantitative", "axis": null},
        "text": {"field": "note"}
      }
    },
    {
      "data": {"name": "notes"},
      "transform": [{"filter": "datum.group == 'jlab'"}],
      "mark": {"type": "text", "align": "center", "baseline": "alphabetic", "font": "Lato", "fontSize": 78, "color": "#E12A00"},
      "encoding": {
        "x": {"field": "q2", "type": "quantitative", "axis": null},
        "y": {"field": "g1", "type": "quantitative", "axis": null},
        "text": {"field": "note"}
      }
    },
    {
      "data": {"name": "notes"},
      "transform": [{"filter": "datum.group == 'heading'"}],
      "mark": {"type": "text", "align": "right", "baseline": "alphabetic", "font": "Lato", "fontSize": 68, "color": "#000000"},
      "encoding": {
        "x": {"field": "q2", "type": "quantitative", "axis": null},
        "y": {"field": "g1", "type": "quantitative", "axis": null},
        "text": {"field": "note"}
      }
    },
    {
      "data": {"name": "notes"},
      "transform": [{"filter": "datum.group == 'footer'"}],
      "mark": {"type": "text", "align": "left", "baseline": "alphabetic", "font": "Lato", "fontWeight": "bold", "fontSize": 56, "color": "#000000"},
      "encoding": {
        "x": {"field": "q2", "type": "quantitative", "axis": null},
        "y": {"field": "g1", "type": "quantitative", "axis": null},
        "text": {"field": "note"}
      }
    }
  ]
}
